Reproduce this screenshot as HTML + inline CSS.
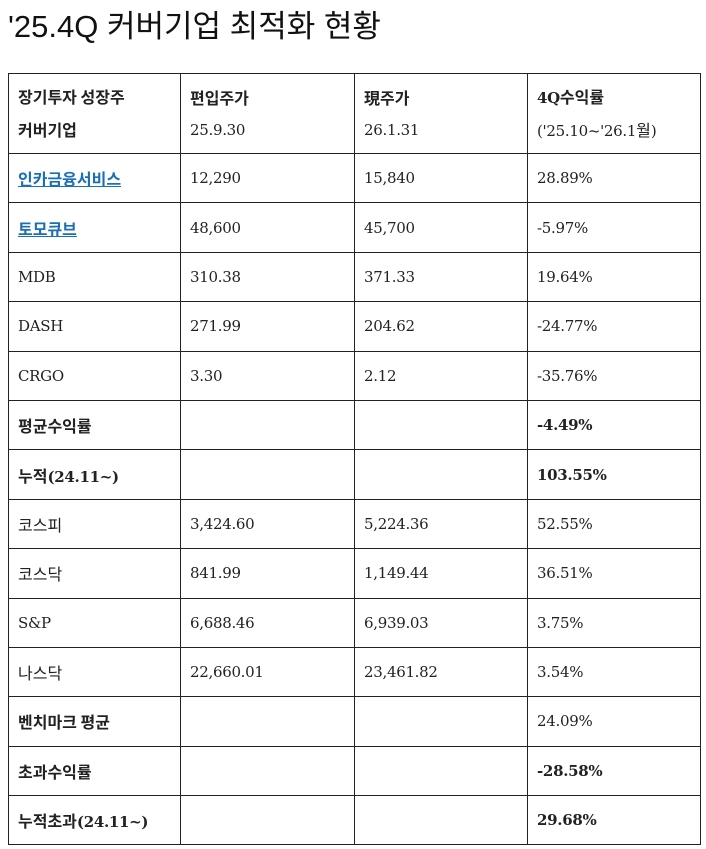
<!DOCTYPE html>
<html><head><meta charset="utf-8"><style>
body{margin:0;background:#fff;width:706px;height:849px;overflow:hidden;font-family:"DejaVu Serif","Noto Sans CJK KR",serif;color:#222}
h1{position:absolute;left:8px;top:1px;margin:0;font-family:"Liberation Sans","Noto Sans CJK KR",sans-serif;font-weight:400;font-size:31px;color:#111}
table{position:absolute;left:8px;top:73px;border-collapse:collapse;table-layout:fixed;width:692px}
td{border:1px solid #222;padding:0 0 0 9px;height:48.4px;font-size:15px;vertical-align:middle;letter-spacing:-0.3px}
tr.h td{height:79px;line-height:31px}
.k{font-family:"Noto Sans CJK KR",sans-serif;font-size:16px;letter-spacing:0}
b{font-weight:700}
a{color:#1a6fb5;text-decoration:underline;font-family:"Noto Sans CJK KR",sans-serif;font-weight:700;font-size:16px;letter-spacing:0}
</style></head><body>
<h1>'25.4Q 커버기업 최적화 현황</h1>
<table>
<col style="width:172px"><col style="width:174px"><col style="width:173px"><col style="width:173px">
<tr class="h"><td><b class="k">장기투자 성장주<br>커버기업</b></td><td><b class="k">편입주가</b><br>25.9.30</td><td><b class="k">現주가</b><br>26.1.31</td><td><b>4Q<span class="k">수익률</span></b><br>('25.10~'26.1<span class="k">월</span>)</td></tr>
<tr><td><a>인카금융서비스</a></td><td>12,290</td><td>15,840</td><td>28.89%</td></tr>
<tr><td><a>토모큐브</a></td><td>48,600</td><td>45,700</td><td>-5.97%</td></tr>
<tr><td>MDB</td><td>310.38</td><td>371.33</td><td>19.64%</td></tr>
<tr><td>DASH</td><td>271.99</td><td>204.62</td><td>-24.77%</td></tr>
<tr><td>CRGO</td><td>3.30</td><td>2.12</td><td>-35.76%</td></tr>
<tr><td><b class="k">평균수익률</b></td><td></td><td></td><td><b>-4.49%</b></td></tr>
<tr><td><b><span class="k">누적</span>(24.11~)</b></td><td></td><td></td><td><b>103.55%</b></td></tr>
<tr><td class="k">코스피</td><td>3,424.60</td><td>5,224.36</td><td>52.55%</td></tr>
<tr><td class="k">코스닥</td><td>841.99</td><td>1,149.44</td><td>36.51%</td></tr>
<tr><td>S&amp;P</td><td>6,688.46</td><td>6,939.03</td><td>3.75%</td></tr>
<tr><td class="k">나스닥</td><td>22,660.01</td><td>23,461.82</td><td>3.54%</td></tr>
<tr><td><b class="k">벤치마크 평균</b></td><td></td><td></td><td>24.09%</td></tr>
<tr><td><b class="k">초과수익률</b></td><td></td><td></td><td><b>-28.58%</b></td></tr>
<tr><td><b><span class="k">누적초과</span>(24.11~)</b></td><td></td><td></td><td><b>29.68%</b></td></tr>
</table>
</body></html>
